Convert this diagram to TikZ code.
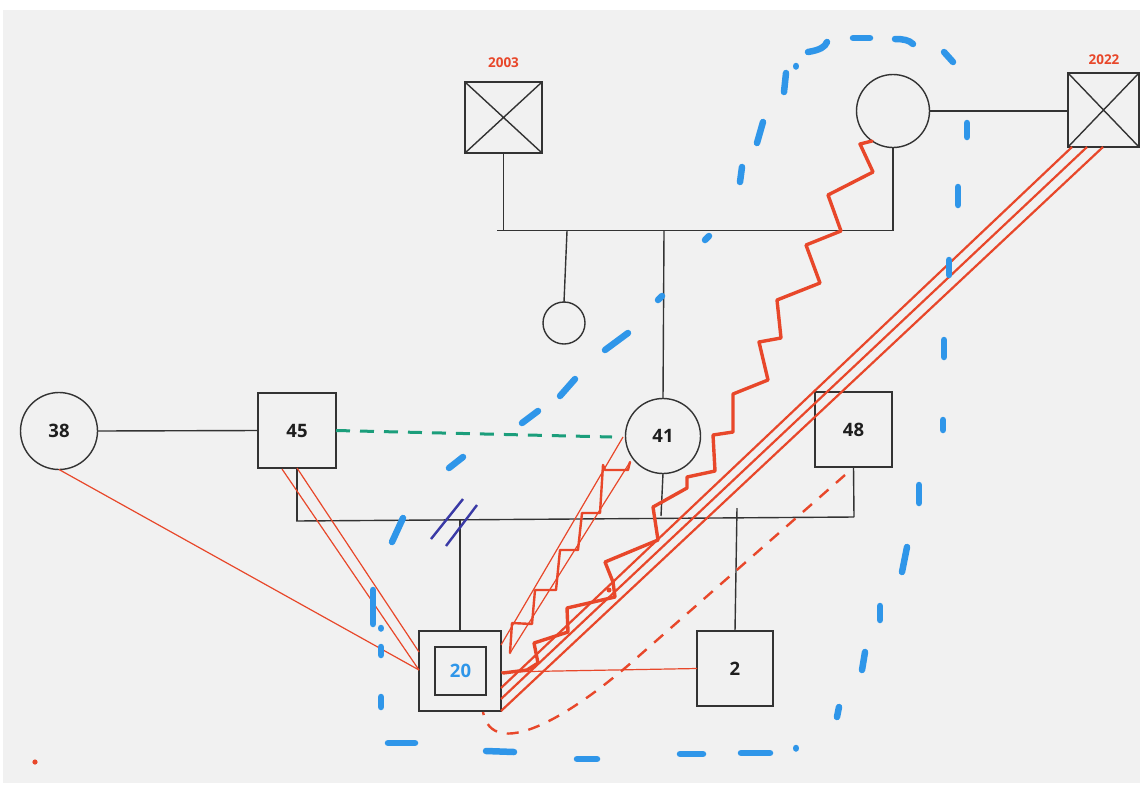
\documentclass[tikz,border=0pt]{standalone}
\usepackage{fontspec}
\setmainfont{Open Sans}
\usetikzlibrary{calc}
\definecolor{bg}{HTML}{F1F1F1}
\definecolor{rd}{HTML}{E8472A}
\definecolor{bl}{HTML}{2F96E9}
\definecolor{gr}{HTML}{1B9E7B}
\definecolor{dv}{HTML}{3A3AA6}
\definecolor{ln}{HTML}{333333}
\definecolor{tx}{HTML}{1E1E1E}
\begin{document}
\begin{tikzpicture}[x=1pt,y=-1pt,
  sqbox/.style={draw=ln,line width=1.4pt,rectangle,inner sep=0pt,outer sep=0pt,
    font=\fontsize{18.5}{20}\selectfont\bfseries,text=tx},
  circbox/.style={draw=ln,line width=1.4pt,circle,inner sep=0pt,outer sep=0pt,
    font=\fontsize{18.5}{20}\selectfont\bfseries,text=tx},
  blk/.style={draw=ln,line width=1.4pt},
  rthin/.style={draw=rd,line width=1.2pt},
  rmid/.style={draw=rd,line width=2.2pt},
  rthick/.style={draw=rd,line width=3.4pt,line join=round,line cap=round},
  yearlbl/.style={text=rd,font=\fontsize{13.5}{15}\selectfont\bfseries,inner sep=0pt},
  bdash/.style={draw=bl,line width=6.5pt,line cap=round},
]
\useasboundingbox (0,0) rectangle (1140,785);
\fill[white] (0,0) rectangle (1140,785);
\fill[bg] (3,10) rectangle (1140,783);

% ---------- nodes ----------
\node[sqbox,minimum width=77pt,minimum height=71pt] (d2003) at (503.5,117.5) {};
\draw[blk] (d2003.north west) -- (d2003.south east) (d2003.south west) -- (d2003.north east);
\node[yearlbl] (y2003) at (503.5,63) {2003};

\node[sqbox,minimum width=71pt,minimum height=74pt] (d2022) at (1103.5,110) {};
\draw[blk] (d2022.north west) -- (d2022.south east) (d2022.south west) -- (d2022.north east);
\node[yearlbl] (y2022) at (1104,60) {2022};

\node[circbox,minimum size=73pt] (gm) at (893,111) {};
\node[circbox,minimum size=42pt] (sis) at (564,323) {};
\node[circbox,minimum size=75pt] (p41) at (663,436) {41};
\node[circbox,minimum size=77pt] (p38) at (59,431) {38};
\node[sqbox,minimum width=78pt,minimum height=75pt] (p45) at (297,430.5) {45};
\node[sqbox,minimum width=77pt,minimum height=75pt] (p48) at (853.5,429.5) {48};
\node[sqbox,minimum width=82pt,minimum height=80pt] (p20) at (460,671) {};
\node[sqbox,minimum width=51pt,minimum height=48pt,text=bl] (p20in) at (460.5,671) {20};
\node[sqbox,minimum width=76pt,minimum height=75pt] (p2) at (735,668.5) {2};

% ---------- junction coordinates ----------
\coordinate (s1L) at (497,230.5);
\coordinate (s1R) at (894,230.5);
\coordinate (sisTop) at (567,231);
\coordinate (p41Top) at (664,231);
\coordinate (s2L) at (296,521);
\coordinate (s2R) at (854,517);
\coordinate (p41Bot) at (661,516);
\coordinate (p20Top) at (460,520);
\coordinate (p2Top) at (737,508);

% ---------- black pedigree lines ----------
\draw[blk] (s1L) -- (s1R);
\draw[blk] (d2003.south) -- (d2003.south |- s1L);
\draw[blk] (gm.south) -- (gm.south |- s1R);
\draw[blk] (gm.east) -- (gm.east -| d2022.west);
\draw[blk] (sisTop) -- (sis.north);
\draw[blk] (p41Top) -- (p41.north);
\draw[blk] (p38.east) -- (p45.west);
\draw[blk] (s2L) -- (s2R);
\draw[blk] (p45.south) -- (p45.south |- s2L);
\draw[blk] (p48.south) -- (s2R);
\draw[blk] (p41.south) -- (p41Bot);
\draw[blk] (p20.north) -- (p20Top);
\draw[blk] (p2.north) -- (p2Top);

% divorce slashes
\draw[dv,line width=2.4pt] (431,539) -- (463,499) (446,546) -- (477,505);

% green dashed
\draw[gr,line width=3pt,dash pattern=on 14pt off 10pt] (p45.east) -- (612,437);

% ---------- red relations ----------
\coordinate (r20a) at (419,670);
\coordinate (r20b) at (419,652);
\draw[rthin] (p38.south) -- (r20a);
\draw[rthin] (282,469) -- (r20a);
\draw[rthin] (p45.south) -- (r20b);
\draw[rthin] (501,672) -- (p2.west);

% triple lines 2022 -> 20
\draw[rmid] (1072,147) -- (501,688);
\draw[rmid] (1087,147) -- (501,699);
\draw[rmid] (1103,147) -- (p20.south east);

% thin band with zigzag 41 -> 20
\draw[rthin] (623,437) -- (501,645);
\draw[rthin] (630,462) -- (510,653);
\draw[rd,line width=2.4pt,line join=round,line cap=round]
  (630,462) -- (628,470) -- (605,470) -- (603,465) -- (600,513) -- (582,513) -- (578,550)
  -- (560,550) -- (556,590) -- (535,590) -- (532,624) -- (512,623) -- (510,653);

% thick zigzag gm -> 20
\draw[rthick] (872,141) -- (860,144) -- (873,172) -- (828,195) -- (841,231) -- (806,245)
  -- (820,283) -- (777,300) -- (781,338) -- (759,342) -- (768,380) -- (733,394)
  -- (733,432) -- (713,435) -- (715,471) -- (687,477) -- (687,488) -- (653,507)
  -- (658,540) -- (605,562) -- (613,582) -- (615,597) -- (567,608) -- (568,632) -- (534,643)
  -- (538,663) -- (527,670) -- (503,673);
\fill[rd] (609,590) circle (2.5pt);

% red dashed 48 -> 20
\draw[rd,line width=2.4pt,dash pattern=on 12pt off 10pt]
  (845,475) -- (640,655) .. controls (565,722) and (492,760) .. (483,712);

\fill[rd] (35,762) circle (2.6pt);

% ---------- blue dashed loop ----------
\foreach \a/\b in {
 {373,590}/{373,624}, {381,628}/{381,628.5}, {381,647}/{381,655}, {381,697}/{381,707},
 {388,743}/{415,743}, {486,751}/{514,752}, {577,759}/{597,759}, {680,754}/{703,754},
 {741,753}/{770,753}, {796,748}/{796,748.5}, {839,707}/{837,717}, {865,652}/{862,670},
 {880,606}/{880,620}, {902,572}/{907,547}, {919,485}/{919,503}, {943,420}/{943,430},
 {944,340}/{944,357}, {949,260}/{949,275}, {958,187}/{958,205}, {967,123}/{967,137},
 {953,62}/{944,52}, {870,38}/{853,38}, {796,66}/{796,66.5}, {786,73}/{784,92},
 {763,122}/{757,143}, {742,167}/{740,182}, {709,236}/{705,240}, {662,296}/{658,300},
 {628,333}/{605,350}, {575,379}/{560,396}, {538,411}/{522,423}, {463,457}/{449,468},
 {403,518}/{392,542}}
 { \draw[bdash] (\a) -- (\b); }
\draw[bdash] (895,39) .. controls (903,39) and (909,40) .. (913,44);
\draw[bdash] (808,52) .. controls (820,50) and (825,47) .. (827,42);
\end{tikzpicture}
\end{document}
